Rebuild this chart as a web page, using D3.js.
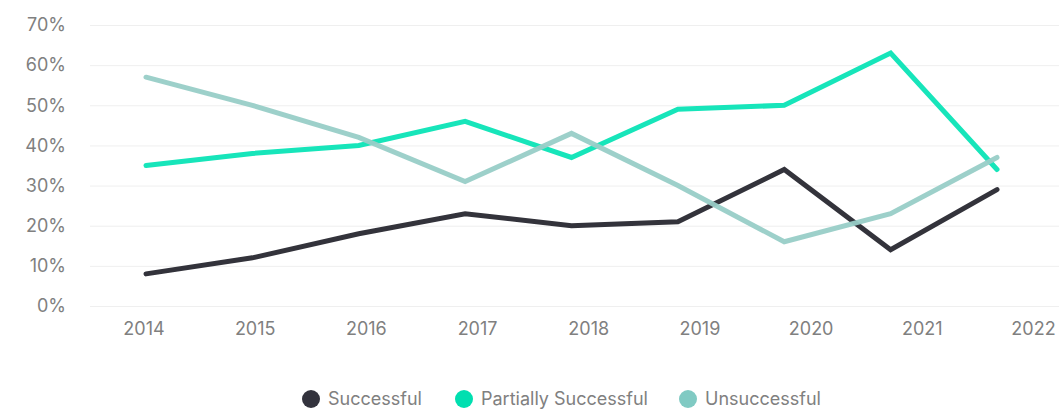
<!DOCTYPE html>
<html>
<head>
<meta charset="utf-8">
<script src="https://cdn.jsdelivr.net/npm/d3@7"></script>
<style>
  html, body { margin: 0; padding: 0; background: #fff; }
  svg { display: block; }
  text { font-family: Inter, "Noto Sans", sans-serif; }
</style>
</head>
<body>
<svg id="chart" width="1059" height="409"></svg>
<script>
const years = ["2014","2015","2016","2017","2018","2019","2020","2021","2022"];
const yTicks = [0, 10, 20, 30, 40, 50, 60, 70];
const successful = [8, 12, 18, 23, 20, 21, 34, 14, 29];
const partiallySuccessful = [35, 38, 40, 46, 37, 49, 50, 63, 34];
const unsuccessful = [57, 50, 42, 31, 43, 30, 16, 23, 37];
const seriesNames = ["Successful", "Partially Successful", "Unsuccessful"];
const lineColors = ["#33333b", "#17e5ba", "#98cdc7"];
const legendColors = ["#33333d", "#00dfb0", "#80cac3"];

const seriesList = [successful, partiallySuccessful, unsuccessful];

const svg = d3.select("#chart");
const W = 1059, H = 409;
const textColor = "#808080";
const fontSize = "18px";

const y = d3.scaleLinear().domain([0, 70]).range([306, 25]);
const xLine = d3.scalePoint().domain(years).range([146, 997]);
const xAxisScale = d3.scalePoint().domain(years).range([143.5, 1033]);

// gridlines + y labels
const yAxis = d3.axisLeft(y)
  .tickValues(yTicks)
  .tickSize(-(W - 90))
  .tickPadding(24)
  .tickFormat(d => d + "%");
const gy = svg.append("g").attr("transform", "translate(90,0)").call(yAxis);
gy.select(".domain").remove();
gy.selectAll(".tick line").attr("stroke", "#efefef").attr("stroke-width", 1);
gy.selectAll(".tick text")
  .attr("fill", textColor)
  .style("font-size", fontSize)
  .style("font-family", "Inter, 'Noto Sans', sans-serif");

// x axis labels
const xAxis = d3.axisBottom(xAxisScale).tickSize(0).tickPadding(0);
const gx = svg.append("g").attr("transform", "translate(0,322)").call(xAxis);
gx.select(".domain").remove();
gx.selectAll(".tick text")
  .attr("fill", textColor)
  .attr("dy", "0.71em")
  .style("font-size", fontSize)
  .style("font-family", "Inter, 'Noto Sans', sans-serif");

// lines
const line = d3.line()
  .x((d, i) => xLine(years[i]))
  .y(d => y(d));

const drawOrder = [0, 1, 2];
drawOrder.forEach(k => {
  svg.append("path")
    .datum(seriesList[k])
    .attr("d", line)
    .attr("fill", "none")
    .attr("stroke", lineColors[k])
    .attr("stroke-width", 5)
    .attr("stroke-linecap", "round")
    .attr("stroke-linejoin", "miter")
    .attr("stroke-opacity", k === 2 ? 0.95 : 1);
});

// legend
const legendX = [311, 464, 688];
const lg = svg.append("g");
seriesNames.forEach((name, i) => {
  lg.append("circle")
    .attr("cx", legendX[i]).attr("cy", 399).attr("r", 9)
    .attr("fill", legendColors[i]);
  lg.append("text")
    .attr("x", legendX[i] + 17).attr("y", 399)
    .attr("dy", "0.35em")
    .attr("fill", textColor)
    .style("font-size", fontSize)
    .text(name);
});
</script>
</body>
</html>
